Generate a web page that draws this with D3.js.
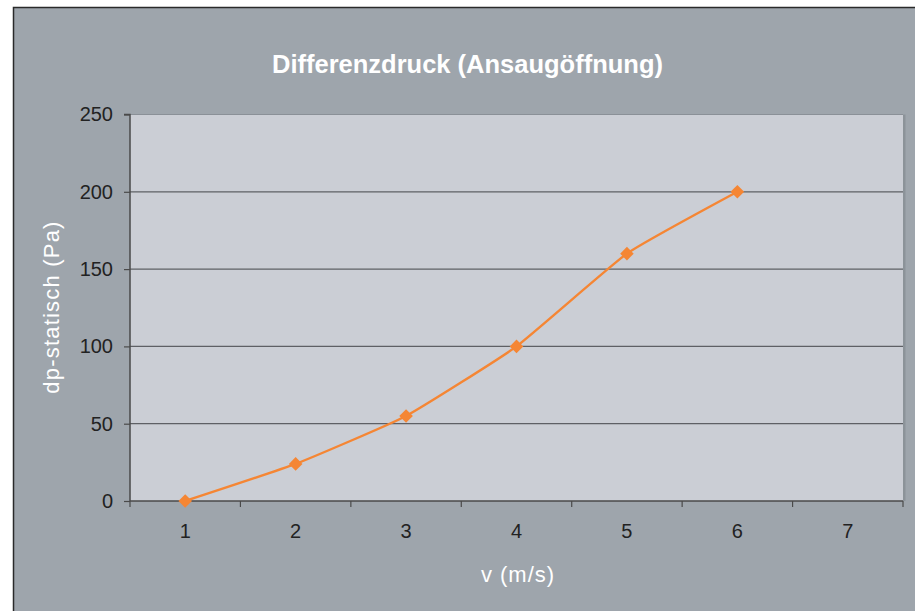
<!DOCTYPE html>
<html><head><meta charset="utf-8">
<script src="https://cdn.jsdelivr.net/npm/d3@7"></script>
<style>html,body{margin:0;padding:0;background:#fff;}svg{display:block;}</style>
</head><body>
<script>
const categories = ["1","2","3","4","5","6","7"];
const values = [0, 24, 55, 100, 160, 200];
const yTicks = [0, 50, 100, 150, 200, 250];
const title = "Differenzdruck (Ansaugöffnung)";
const xTitle = "v (m/s)";
const yTitle = "dp-statisch (Pa)";

const W = 915, H = 611;
const FONT = "Liberation Sans, Arial, sans-serif";
const svg = d3.select("body").append("svg").attr("width", W).attr("height", H);
svg.append("rect").attr("x", 13.5).attr("y", 7.5).attr("width", W + 10).attr("height", H + 10)
  .attr("fill", "#9ea5ac").attr("stroke", "#2a2a2a").attr("stroke-width", 1.5);

const L = 130, R = 903, T = 114.5, B = 501;
const x = d3.scaleBand().domain(categories).range([L, R]);
const y = d3.scaleLinear().domain([0, 250]).range([B, T]);

svg.append("rect").attr("x", L).attr("y", T).attr("width", R - L + 2.5).attr("height", B - T)
  .attr("fill", "#8c9399");
svg.append("rect").attr("x", L).attr("y", T).attr("width", R - L).attr("height", B - T)
  .attr("fill", "#cbced5");

// gridlines
svg.append("g").selectAll("line").data(yTicks.filter(d => d > 0)).join("line")
  .attr("x1", L).attr("x2", R).attr("y1", d => y(d)).attr("y2", d => y(d))
  .attr("stroke", d => d === 250 ? "#8a9097" : "#5e6065").attr("stroke-width", 1.2);

// y axis
const yAxis = d3.axisLeft(y).tickValues(yTicks).tickSize(6).tickPadding(11);
const gy = svg.append("g").attr("transform", `translate(${L},0)`).call(yAxis);
gy.select(".domain").attr("stroke", "#4a4a4a").attr("stroke-width", 1.5).attr("d", `M-6,${T}H0V${B}`);
gy.selectAll(".tick line").attr("stroke", "#4a4a4a").attr("stroke-width", 1.2);
gy.selectAll(".tick text").attr("fill", "#222").style("font-family", FONT).style("font-size", "20px");

// x axis
const xAxis = d3.axisBottom(x).tickSize(0).tickPadding(23);
const gx = svg.append("g").attr("transform", `translate(0,${B})`).call(xAxis);
gx.select(".domain").attr("stroke", "#4a4a4a").attr("stroke-width", 1.5).attr("d", `M${L},0H${R}`);
gx.selectAll(".tick text").attr("fill", "#222").style("font-family", FONT).style("font-size", "20px");
const bounds = categories.map(c => x(c)).concat([R]);
gx.append("g").selectAll("line").data(bounds).join("line")
  .attr("x1", d => d).attr("x2", d => d).attr("y1", 0).attr("y2", 6)
  .attr("stroke", "#4a4a4a").attr("stroke-width", 1.2);

// line
const pts = values.map((v, i) => [x(categories[i]) + x.bandwidth() / 2, y(v)]);
svg.append("path").attr("d", d3.line().curve(d3.curveCardinal.tension(0.6))(pts))
  .attr("fill", "none").attr("stroke", "#f58634").attr("stroke-width", 2.4);
svg.append("g").selectAll("path").data(pts).join("path")
  .attr("d", d3.symbol(d3.symbolSquare, 92)())
  .attr("transform", d => `translate(${d[0]},${d[1]}) rotate(45)`)
  .attr("fill", "#f58634");

// titles
svg.append("text").attr("x", 467.5).attr("y", 73).attr("text-anchor", "middle")
  .attr("fill", "#fff").style("font-family", FONT)
  .style("font-weight", "bold").style("font-size", "25.5px").text(title);
svg.append("text").attr("x", 518).attr("y", 582).attr("text-anchor", "middle")
  .attr("fill", "#fff").style("font-family", FONT).style("letter-spacing", "1px")
  .style("font-size", "22px").text(xTitle);
svg.append("text").attr("transform", "translate(59,307) rotate(-90)").attr("text-anchor", "middle")
  .attr("fill", "#fff").style("font-family", FONT).style("letter-spacing", "1.2px")
  .style("font-size", "22px").text(yTitle);
</script>
</body></html>
